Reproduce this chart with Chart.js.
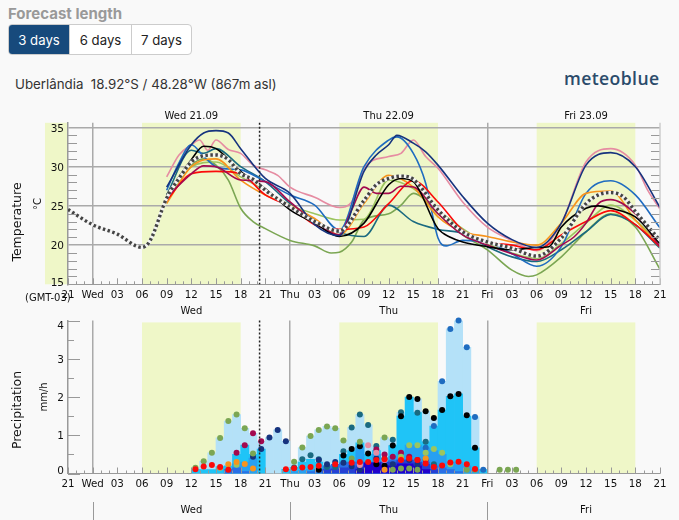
<!DOCTYPE html>
<html><head><meta charset="utf-8">
<script src="https://cdn.jsdelivr.net/npm/chart.js@4"></script>
<style>
html,body{margin:0;padding:0;background:#f9f9f9;width:679px;height:520px;overflow:hidden;font-family:Inter,sans-serif}
.abs{position:absolute}
#flen{left:8px;top:4px;font-size:15px;font-weight:700;color:#999;white-space:nowrap}
#grp{left:8px;top:24px;width:184px;height:31px;display:flex;border:1px solid #ccc;border-radius:4px;box-sizing:border-box;background:#fff;overflow:hidden}
#grp div{height:100%;display:flex;align-items:center;justify-content:center;font-size:13.2px;color:#222;box-sizing:border-box}
#grp .on{background:#174a7c;color:#fff;width:60px}
#grp .b2{width:62px;border-left:1px solid #ccc}
#grp .b3{width:60px;border-left:1px solid #ccc}
#loc{left:15px;top:76px;font-size:13.3px;color:#333;white-space:pre}
#logo{left:564px;top:66px;font-family:"Open Sans";font-size:17.6px;font-weight:600;color:#2b4b6b;letter-spacing:.4px}
canvas{position:absolute;left:0}
</style></head><body>
<div class="abs" id="flen">Forecast length</div>
<div class="abs" id="grp"><div class="on">3 days</div><div class="b2">6 days</div><div class="b3">7 days</div></div>
<div class="abs" id="loc">Uberlândia  18.92°S / 48.28°W (867m asl)</div>
<div class="abs" id="logo">meteoblue</div>
<canvas id="cT" width="679" height="200" style="top:105px;width:679px;height:200px"></canvas>
<canvas id="cP" width="679" height="215" style="top:305px;width:679px;height:215px"></canvas>
<script>
// Hours since Tue 21:00
const hourTicks=['21','Wed','03','06','09','12','15','18','21','Thu','03','06','09','12','15','18','21','Fri','03','06','09','12','15','18','21'];
const dayCenters=[15,39,63];
const dayTitles=['Wed 21.09','Thu 22.09','Fri 23.09'];
const dayNames=['Wed','Thu','Fri'];
const dayStarts=[3,27,51];
const daylight=[[-2.8,0],[9,21],[33,45],[57,69]];
const nowHour=23.3;
const tempTicks=[15,20,25,30,35];

const grid3h=[12,15,18,21,24,27,30,33,36,39,42,45,48,51,54,57,60,63,66,69,72];
const meanHours=[0,3,6,9,10,12,13.5,15,16.5,18,19.5,21,22.5,24,27,30,33,36,37.5,39,40.5,42,45,48,51,54,57,60,63,64.5,66,67.5,69,72];
const meanTemp=[24.55,22.6,21.4,19.7,20.6,26,28.5,30.6,31.4,31.5,30.9,29.1,28.4,27,24.9,23,21.8,25.7,27.7,28.5,28.8,28.4,24.5,21.7,20.4,19.6,18.6,20.9,25.3,26.4,26.7,26.2,24.3,20.6];
const navyHours=[12,15,16.5,18,19.5,21,24,27,30,33,36,37.5,39,40,42,43.5,45,48,51,54,57,60,63,66,69,72];
const navy=[27.4,32.8,34.3,34.6,34.3,32.3,28.5,26.6,22.6,21.2,29.4,31.5,32.8,34,33,31.9,30.2,26.2,22.8,20.7,19.7,22.8,30.2,31.8,30,24.8];
const pinkHours=[12,13.5,15,16,17,18,19.5,21,22.5,24,25.5,27,30,33,34.5,36,39,40.5,42,43.5,45,48,51,54,57,60,63,66,69,70.5,72];
const pink=[28.7,31.5,32.8,33.4,32.1,33.4,32.2,31.7,30.2,29.6,28.9,27.4,26.1,24.8,25.5,29.8,31.3,31.7,33.4,31.3,29.8,25.5,22.3,20.6,19.3,22.8,30.6,32.3,30.2,27,24.6];
const blueHours=[12,13.5,15,16.5,18,19.5,21,24,27,30,33,36,39,40,42,43.5,45,46,48,51,54,57,60,63,66,69,72];
const blue=[27,30.5,32.8,31.3,30,29.7,29.6,28.1,26.4,25.1,21.9,30,33.4,33.8,31.7,27.9,20.9,19.9,20.6,20.4,18.9,17.3,19.8,26.6,28.2,26.4,22.2];
const blackHours=[12,15,16.5,18,21,24,27,30,33,36,39,40.5,42,45,46.5,48,51,54,57,58.5,60,63,64.5,66,69,72];
const black=[26.4,30.9,32.6,32.3,29.4,27.2,24.5,22.8,21.1,22.8,27.7,28.5,28.1,22.1,21,20.4,19.8,19.4,19.7,19.8,22.3,24.7,25,24.7,23.6,20.2];
const red=[25.7,29.1,29.4,29.1,26.4,24.9,22.6,22,22.3,25.3,28.2,25.5,21.9,20.4,20,19.4,21.3,23,24.4,22.6,19.8];
const orange=[25.3,30,31,28.3,26.4,25.1,23.4,21.3,25.3,28.9,27.4,23.6,21.7,21.1,20.4,20,22.8,26.6,26.9,23.2,19.8];
const darkRedHours=[12,15,16.5,18,21,24,27,30,33,34.5,36,37.5,39,40.5,42,45,48,51,54,57,60,61.5,63,64.5,66,69,72];
const darkRed=[26.1,29.1,30.1,30,28.3,28.1,25.5,23,21.3,24.5,27.4,26.6,26.6,27.5,27.4,24,21.3,20,18.9,18.1,20,21,22.8,25.3,25.8,24,19.8];
const oliveHours=[12,15,16.5,18,19.5,21,22.5,24,27,30,32,33,34.5,36,39,40.5,42,45,48,51,54,56,57,60,63,66,69,72];
const olive=[25.5,30.2,31,30.2,28.3,24.7,23,22.1,20.6,19.9,19,19.1,20.4,23.2,24,25.1,26.6,24,21.3,19.4,16.8,16,16.2,18.5,21.7,24,22.3,16.9];
const lime=[25.7,30,30.6,28.7,27,25.1,24,23.2,23.3,28.3,27.2,24.5,22.1,20.2,19,18.3,20.2,22.8,25.1,23.2,20.2];
const tealHours=[12,15,16.5,18,21,24,27,30,33,36,39,42,45,48,51,54,57,60,63,66,69,72];
const teal=[26.4,32.1,31.7,32.3,30,28.1,25.3,23.2,21.6,21.1,25.1,23,22,21.5,19.8,18.5,17.9,19.4,21.7,23.9,22.6,19.6];

// Precipitation: one value per hour, centred on the half hour
const barHours=[15.5,16.5,17.5,18.5,19.5,20.5,21.5,22.5,23.5,24.5,25.5,26.5,27.5,28.5,29.5,30.5,31.5,32.5,33.5,34.5,35.5,36.5,37.5,38.5,39.5,40.5,41.5,42.5,43.5,44.5,45.5,46.5,47.5,48.5,49.5,50.5];
const rainLight=[.15,.32,.54,.93,1.37,1.54,1.18,1.05,.84,.94,1.14,.84,.31,.68,.98,1.14,1.23,1.18,.86,1.2,1.54,1.27,.72,.94,.88,1.6,2.0,1.95,1.63,1.45,2.41,3.78,4.0,3.3,1.48,.1];
const rainCyan=[.1,.1,.1,.18,.2,.5,.74,.5,.64,0,0,.11,.16,.3,.37,.3,.2,.2,.5,.6,.8,.5,.6,.4,.73,1.5,2.0,1.59,.83,1.24,1.66,2.02,2.08,1.5,.67,.1];
const rainMid=[0,0,0,0,.1,.25,.3,.4,0,0,0,0,.05,.08,.1,.1,.15,.15,.2,.25,.7,.3,.5,.3,.44,.54,.74,.74,.67,.6,.5,.3,.3,.2,.1,0];
const rainBlue=[0,0,0,0,.1,.15,.05,0,0,0,0,0,0,0,.05,.1,.2,.24,.28,.3,.3,.3,.3,.3,.35,.35,.35,.3,.3,.2,.15,.1,.05,0,0,0];
const rainRoyal=[0,0,0,0,0,0,0,0,0,0,0,0,0,0,0,0,.1,.12,.15,.15,.2,.2,.24,.3,.3,.35,.35,.3,.24,.1,0,0,0,0,0,0];
const rainIndigo=[0,0,0,0,0,0,0,0,0,0,0,0,0,0,0,0,0,0,0,0,.1,.28,.28,.2,.2,.25,.25,.2,.1,0,0,0,0,0,0,0];

const dotHours=[15.5,16.5,17.5,18.5,19.5,20.5,21.5,22.5,23.5,24.5,25.5,26.5,27.5,28.5,29.5,30.5,31.5,32.5,33.5,34.5,35.5,36.5,37.5,38.5,39.5,40.5,41.5,42.5,43.5,44.5,45.5,46.5,47.5,48.5,49.5,50.5,51.5,52.5,53.5,54.5];
const N=null;
const dotOlive=[.15,.32,.54,.93,1.37,1.54,1.18,.52,N,N,N,N,.31,.68,.98,1.14,1.23,1.18,.86,.39,.83,N,N,.94,.1,.13,.13,.1,N,N,N,N,N,.1,.1,N,N,.1,.1,.1];
const dotDarkRed=[N,N,N,N,N,.54,.74,1.05,.84,N,N,N,N,N,N,N,N,N,N,N,N,N,.63,.5,.44,.54,.44,.35,.35,N,N,N,N,N,N,N,N,N,N,N];
const dotNavy=[N,N,N,N,N,N,N,.44,.64,.94,1.14,.84,N,N,N,.35,.24,.3,.28,.19,.1,N,.39,N,.24,N,.35,.24,N,N,N,N,N,N,N,N,N,N,N,N];
const dotRed=[.11,.18,.22,.17,.1,N,N,N,N,N,N,.11,.14,.16,.17,.2,N,.24,N,.28,.3,.3,.35,.37,N,.35,.39,.35,.26,.17,.21,.29,.31,.24,.12,N,N,N,N,N];
const dotOrange=[N,N,N,.15,.24,.3,.25,.13,N,N,N,N,N,N,N,N,N,N,N,N,N,N,N,.1,N,.37,N,N,.39,N,N,N,N,N,N,N,N,N,N,N];
const dotLime=[N,N,N,N,N,.23,N,N,N,N,N,N,N,N,N,N,N,N,N,N,N,N,N,N,N,.44,.74,.74,.54,.64,.54,.24,N,N,N,N,N,N,N,N];
const dotTeal=[N,N,N,N,N,N,N,N,N,N,N,N,.16,.37,.48,.37,.17,.17,.58,1.2,1.54,1.27,.72,.39,.88,1.6,N,1.59,.83,.24,N,N,N,N,N,N,N,N,N,N];
const dotBlack=[N,N,N,N,N,N,N,N,N,N,N,N,N,N,N,.1,N,N,.47,.64,.71,.52,.24,.2,.73,1.5,2.0,1.95,1.63,1.45,1.66,2.02,2.08,1.52,.67,N,N,N,N,N];
const dotBlue=[N,N,N,N,N,N,N,N,N,N,N,N,N,N,N,N,N,N,N,N,N,N,N,N,N,N,N,N,.67,1.24,2.41,3.78,4.0,3.3,1.48,.1,N,N,N,N];
const dotPink=[N,N,N,N,N,N,N,N,N,N,N,N,N,N,N,N,N,N,N,N,.22,.74,.54,.35,N,N,N,N,N,N,N,N,N,N,N,N,N,N,N,N];

const COL={navy:'#16337e',pink:'#e68ca2',blue:'#1f6cc0',black:'#000',red:'#fb0a0a',orange:'#f7941d',darkRed:'#a3094f',olive:'#7ba653',lime:'#9cc55f',teal:'#1a6a80'};
const SUN='#eff7c8',AX='#999',GRID='#aaa',TXT='#111',FONT='"DejaVu Sans"';
const pts=(xs,ys)=>xs.map((x,i)=>({x,y:ys[i]})).filter(p=>p.y!==null&&p.y!==0);

function line(xs,ys,color,order,w){return{type:'line',data:pts(xs,ys),borderColor:color,borderWidth:w||1.6,pointRadius:0,cubicInterpolationMode:'monotone',order};}
const shift=(scale,map)=>{scale.getLabelItems().forEach((it,i)=>{const v=scale.ticks[i].value;if(map[v])it.options.translation[1]+=map[v];});};

function decor(o){return{id:'decor',
 beforeDraw(c){
  const x=c.scales.x,y=c.scales.y,a=c.chartArea,g=c.ctx;g.save();
  g.fillStyle=SUN;
  const top=o.sunTop?y.getPixelForValue(o.sunTop):a.top;
  (o.bands).forEach(b=>{const l=x.getPixelForValue(b[0]),r=x.getPixelForValue(b[1]);g.fillRect(l,top,r-l,a.bottom-top);});
  g.restore();
  if(!c._shifted){c._shifted=1;shift(y,o.labelShift);}
 },
 afterDatasetsDraw(c){
  const x=c.scales.x,y=c.scales.y,a=c.chartArea,g=c.ctx;g.save();
  g.strokeStyle=AX;g.lineWidth=1;
  for(let h=0;h<=72;h++){const p=Math.round(x.getPixelForValue(h))+.5;g.beginPath();g.moveTo(p,a.bottom);g.lineTo(p,a.bottom-(h%3?3:6));g.stroke();}
  for(let v=y.min;v<=y.max+1e-6;v+=o.minorStep){
   const p=Math.round(y.getPixelForValue(v))+.5,long=Math.abs(v/o.majorStep-Math.round(v/o.majorStep))<1e-6;
   if(o.gridded&&long)continue;
   const len=o.gridded?9:(long?12:6);
   g.beginPath();g.moveTo(a.left,p);g.lineTo(a.left+len,p);
   if(o.gridded){g.moveTo(a.right,p);g.lineTo(a.right-len,p);}
   g.stroke();
  }
  const n=x.getPixelForValue(nowHour);
  g.strokeStyle='#222';g.lineWidth=1.5;g.setLineDash([2,2]);g.beginPath();g.moveTo(n,a.top);g.lineTo(n,a.bottom);g.stroke();g.setLineDash([]);
  g.restore();
 },
 afterDraw(c){
  const g=c.ctx;g.save();g.fillStyle=TXT;g.textAlign='center';g.textBaseline='middle';
  o.text.forEach(t=>{g.save();g.font=t.f+' '+FONT;g.translate(t.x,t.y);if(t.r)g.rotate(-Math.PI/2);g.textAlign=t.a||'center';g.fillText(t.s,0,0);g.restore();});
  if(o.lowerDays){const x=c.scales.x;g.strokeStyle=AX;g.lineWidth=1;dayStarts.forEach(d=>{const p=Math.round(x.getPixelForValue(d))+.5;g.beginPath();g.moveTo(p,o.lowerDays[0]);g.lineTo(p,o.lowerDays[1]);g.stroke();});}
  g.restore();
 }};}

const xBase=(h,pad)=>({type:'linear',min:0,max:72,position:'bottom',offset:false,
 afterBuildTicks(s){s.ticks=hourTicks.map((_,i)=>({value:i*3}));},
 afterFit(s){s.height=h;},
 grid:{offset:false,drawTicks:false,drawOnChartArea:true,color:c=>dayStarts.includes(c.tick&&c.tick.value)?GRID:'rgba(0,0,0,0)',lineWidth:1.5},
 border:{color:AX,width:1},
 ticks:{autoSkip:false,maxRotation:0,padding:pad,color:TXT,font:{family:FONT,size:10.3},callback:(v)=>hourTicks[v/3]}});
const xLabelled=(pos,h,labels,pad,size)=>({type:'linear',min:0,max:72,position:pos,offset:false,
 afterBuildTicks(s){s.ticks=dayCenters.map(v=>({value:v}));},
 afterFit(s){s.height=h;},
 grid:{offset:false,display:false,drawTicks:false},border:{display:false},
 ticks:{autoSkip:false,maxRotation:0,padding:pad,color:TXT,font:{family:FONT,size:size},callback:v=>labels[dayCenters.indexOf(v)]}});

new Chart(document.getElementById('cT'),{
 type:'line',
 data:{datasets:[
  line(meanHours,meanTemp,'#444',0,3.4),
  line(meanHours,meanTemp,'#f4f4f4',1,3.4),
  line(blackHours,black,COL.black,4),
  line(navyHours,navy,COL.navy,3),
  line(darkRedHours,darkRed,COL.darkRed,5),
  line(grid3h,red,COL.red,6),
  line(grid3h,orange,COL.orange,7),
  line(blueHours,blue,COL.blue,8),
  line(tealHours,teal,COL.teal,9),
  line(grid3h,lime,COL.lime,10),
  line(oliveHours,olive,COL.olive,11),
  line(pinkHours,pink,COL.pink,12)
 ].map((d,i)=>i===0?Object.assign(d,{borderDash:[2.5,2.5]}):d)},
 options:{responsive:false,animation:false,events:[],
  layout:{padding:{right:19,top:0,left:0,bottom:0}},
  plugins:{legend:{display:false},tooltip:{enabled:false}},
  scales:{
   x:xBase(20.7,5),
   xTop:xLabelled('top',17.8,dayTitles,0,10),
   y:{type:'linear',min:15,max:35.6,position:'left',afterFit(s){s.width=68;},
      afterBuildTicks(s){s.ticks=tempTicks.map(v=>({value:v}));},
      grid:{drawTicks:false,color:c=>c.tick&&c.tick.value>15?GRID:'rgba(0,0,0,0)',lineWidth:1.5},border:{color:AX,width:1.5},
      ticks:{padding:4,color:TXT,font:{family:FONT,size:10.5},callback:v=>String(v)}}
  }},
 plugins:[decor({bands:daylight,minorStep:1,majorStep:5,gridded:true,labelShift:{15:-1.5,20:1.5,25:1.5,30:1.5,35:1.5},
  text:[{s:'Temperature',x:18,y:117,r:1,f:'12.5px'},{s:'°C',x:38,y:99,r:1,f:'10px'},{s:'(GMT-03)',x:25,y:193,a:'left',f:'10px'}]}),
  {id:'rightEdge',afterDraw(c){const g=c.ctx,a=c.chartArea;g.save();g.strokeStyle='#ccc';g.lineWidth=1.5;g.beginPath();g.moveTo(a.right,a.top);g.lineTo(a.right,a.bottom);g.stroke();g.restore();}}]
});

const bar=(ys,color,order)=>({type:'bar',data:pts(barHours,ys),backgroundColor:color,grouped:false,barPercentage:1,categoryPercentage:1,order});
const dot=(ys,color,order)=>({type:'scatter',data:pts(dotHours,ys),showLine:false,pointRadius:3,pointBackgroundColor:color,pointBorderWidth:0,clip:false,order});

new Chart(document.getElementById('cP'),{
 type:'bar',
 data:{datasets:[
  dot(dotRed,COL.red,0),dot(dotOrange,COL.orange,1),dot(dotOlive,COL.olive,2),dot(dotLime,COL.lime,3),
  dot(dotPink,COL.pink,4),dot(dotDarkRed,COL.darkRed,5),dot(dotBlack,COL.black,6),dot(dotNavy,COL.navy,7),
  dot(dotBlue,COL.blue,8),dot(dotTeal,COL.teal,9),
  bar(rainIndigo,'#2100cc',20),bar(rainRoyal,'#2540d4',21),bar(rainBlue,'#2a6fe6',22),bar(rainMid,'#27a0f2',23),bar(rainCyan,'#1fc4f7',24),bar(rainLight,'#b4e1f8',25)
 ]},
 options:{responsive:false,animation:false,events:[],
  layout:{padding:{right:19,top:0,left:0,bottom:0}},
  plugins:{legend:{display:false},tooltip:{enabled:false}},
  scales:{
   x:xBase(20,5),
   xLow:xLabelled('bottom',26.5,dayNames,11,10),
   xTop:xLabelled('top',15.5,dayNames,3,10),
   y:{type:'linear',min:0,max:4,position:'left',afterFit(s){s.width=68;},
      afterBuildTicks(s){s.ticks=[0,1,2,3,4].map(v=>({value:v}));},
      grid:{display:false,drawTicks:false},border:{color:AX,width:1.5},
      ticks:{padding:4,color:TXT,font:{family:FONT,size:10.5},callback:v=>String(v)}}
  }},
 plugins:[decor({bands:daylight.slice(1),sunTop:3.95,minorStep:.5,majorStep:1,gridded:false,labelShift:{0:-2,1:1.5,2:1.5,3:1.5,4:5.5},lowerDays:[197,215],
  text:[{s:'Precipitation',x:18,y:105,r:1,f:'12.5px'},{s:'mm/h',x:44,y:92,r:1,f:'10px'}]})]
});
</script>
</body></html>
